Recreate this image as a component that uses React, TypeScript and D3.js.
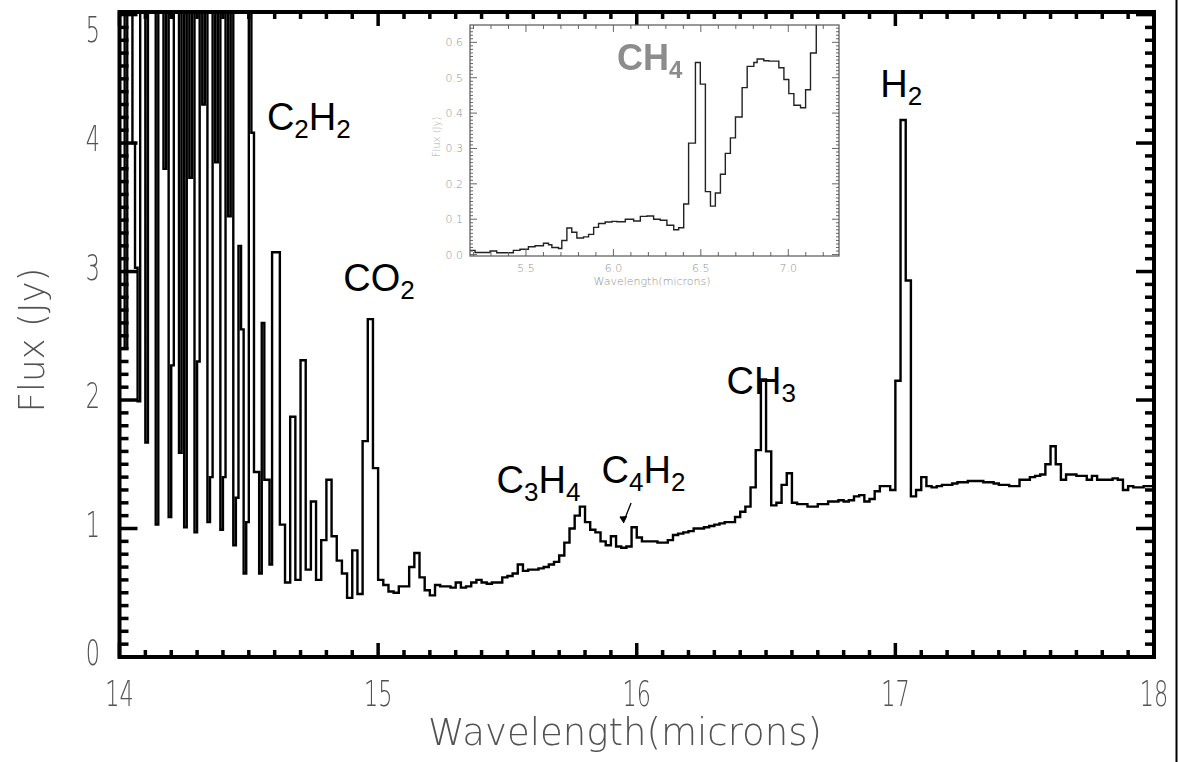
import React from 'react';
import * as d3 from 'd3';

const W = 1180;
const H = 762;

// C2H2 band head, one flux value (Jy) per 0.01 µm bin from 14.00 to 14.60 µm
const combStart = 14.0;
const combWidth = 0.01;
const combFlux = [
  5.6, 5.6, 2.4, 5.6, 5.6, 4.0, 3.03, 1.99, 5.6, 5.6,
  1.67, 5.6, 5.6, 5.6, 1.03, 5.6, 5.6, 3.8, 5.6, 1.09,
  2.27, 5.6, 5.6, 1.59, 5.6, 1.01, 5.6, 3.73, 5.6, 0.97,
  2.3, 5.6, 4.3, 5.6, 1.05, 1.4, 5.6, 3.85, 5.6, 0.99,
  1.4, 5.6, 3.43, 5.6, 0.87, 1.24, 3.2, 2.55, 0.65, 1.05,
  5.6, 4.08, 1.44, 1.44, 0.65, 2.6, 1.38, 1.38, 0.72, 3.15,
];

// Remainder of the spectrum, one flux value (Jy) per 0.02 µm bin from 14.60 µm
const binStart = 14.6;
const binWidth = 0.02;
const flux = [
  3.15, 1.03, 0.58, 1.87, 0.6, 2.31, 0.68, 1.21, 0.6, 0.91,
  1.38, 0.94, 0.75, 0.65, 0.46, 0.83, 0.49, 1.68, 2.63, 1.47,
  0.6, 0.56, 0.51, 0.5, 0.55, 0.55, 0.7, 0.81, 0.62, 0.52,
  0.48, 0.56, 0.55, 0.55, 0.54, 0.58, 0.54, 0.55, 0.58, 0.6,
  0.58, 0.57, 0.58, 0.58, 0.62, 0.63, 0.65, 0.72, 0.67, 0.68,
  0.68, 0.69, 0.7, 0.72, 0.74, 0.79, 0.89, 1.0, 1.1, 1.17,
  1.05, 0.99, 0.97, 0.9, 0.87, 0.94, 0.86, 0.85, 0.86, 1.01,
  0.93, 0.9, 0.9, 0.9, 0.89, 0.89, 0.91, 0.95, 0.96, 0.97,
  0.98, 1.0, 1.0, 1.01, 1.02, 1.03, 1.04, 1.05, 1.05, 1.09,
  1.13, 1.17, 1.32, 1.61, 2.16, 1.6, 1.18, 1.2, 1.34, 1.43,
  1.2, 1.19, 1.19, 1.17, 1.17, 1.19, 1.19, 1.21, 1.21, 1.22,
  1.21, 1.22, 1.25, 1.26, 1.21, 1.23, 1.29, 1.33, 1.33, 1.3,
  2.15, 4.18, 2.93, 1.25, 1.3, 1.4, 1.33, 1.32, 1.33, 1.34,
  1.34, 1.35, 1.36, 1.36, 1.37, 1.37, 1.37, 1.36, 1.36, 1.35,
  1.34, 1.34, 1.33, 1.33, 1.38, 1.38, 1.4, 1.41, 1.42, 1.5,
  1.64, 1.5, 1.38, 1.42, 1.42, 1.41, 1.41, 1.38, 1.41, 1.38,
  1.38, 1.38, 1.39, 1.38, 1.3, 1.33, 1.32, 1.32, 1.33, 1.33,
];

const xTickValues = [14, 15, 16, 17, 18];
const yTickValues = [0, 1, 2, 3, 4, 5];

// Inset: 5–7.3 µm, step starts (µm) and flux (Jy)
const insetWave = [
  5.18, 5.209, 5.295, 5.333, 5.428, 5.466, 5.514, 5.552, 5.6, 5.629,
  5.648, 5.686, 5.705, 5.734, 5.762, 5.791, 5.829, 5.858, 5.887, 5.915,
  5.953, 5.992, 6.02, 6.068, 6.116, 6.154, 6.192, 6.23, 6.268, 6.306,
  6.345, 6.373, 6.402, 6.43, 6.469, 6.497, 6.526, 6.555, 6.583, 6.612,
  6.64, 6.669, 6.698, 6.736, 6.765, 6.803, 6.822, 6.86, 6.889, 6.946,
  6.975, 7.003, 7.032, 7.07, 7.099, 7.127, 7.16,
];
const insetFlux = [
  0.012, 0.006, 0.01, 0.005, 0.012, 0.015, 0.022, 0.025, 0.032, 0.028,
  0.02, 0.017, 0.04, 0.075, 0.063, 0.047, 0.05, 0.057, 0.077, 0.088,
  0.092, 0.094, 0.093, 0.1, 0.095, 0.108, 0.109, 0.1, 0.097, 0.083,
  0.07, 0.076, 0.143, 0.315, 0.543, 0.482, 0.178, 0.137, 0.174, 0.227,
  0.286, 0.33, 0.389, 0.472, 0.532, 0.543, 0.553, 0.548, 0.547, 0.528,
  0.495, 0.455, 0.422, 0.415, 0.466, 0.57, 0.8,
];
const insetXTickValues = [5.5, 6.0, 6.5, 7.0];
const insetYTickValues = [0, 0.1, 0.2, 0.3, 0.4, 0.5, 0.6];

// Molecule annotations: anchor (µm, Jy) and text runs (sub = subscript)
type Run = { t: string; sub?: boolean };
const speciesLabels: { wl: number; f: number; runs: Run[] }[] = [
  { wl: 14.57, f: 4.1, runs: [{ t: 'C' }, { t: '2', sub: true }, { t: 'H' }, { t: '2', sub: true }] },
  { wl: 14.865, f: 2.85, runs: [{ t: 'CO' }, { t: '2', sub: true }] },
  { wl: 15.458, f: 1.276, runs: [{ t: 'C' }, { t: '3', sub: true }, { t: 'H' }, { t: '4', sub: true }] },
  { wl: 15.864, f: 1.354, runs: [{ t: 'C' }, { t: '4', sub: true }, { t: 'H' }, { t: '2', sub: true }] },
  { wl: 16.347, f: 2.047, runs: [{ t: 'CH' }, { t: '3', sub: true }] },
  { wl: 16.942, f: 4.358, runs: [{ t: 'H' }, { t: '2', sub: true }] },
];

const PLOT = { left: 119.5, right: 1154, top: 12, bottom: 657 };
const INSET = { left: 470, right: 839, top: 25, bottom: 256 };

const thinFont = "'DejaVu Sans', 'Liberation Sans', sans-serif";
const labelFont = "'Liberation Sans', Arial, Helvetica, sans-serif";

// Narrow, thin digits for the main axes
const DIGIT_SQUEEZE = 0.62;

function Runs({ runs, size, subSize, shift }: { runs: Run[]; size: number; subSize: number; shift: number }) {
  let level = 0;
  return (
    <>
      {runs.map((r, i) => {
        const target = r.sub ? shift : 0;
        const dy = target - level;
        level = target;
        return (
          <tspan key={i} dy={dy} fontSize={r.sub ? subSize : size}>
            {r.t}
          </tspan>
        );
      })}
    </>
  );
}

export default function App() {
  const x = d3.scaleLinear().domain([14, 18]).range([PLOT.left, PLOT.right]);
  const y = d3.scaleLinear().domain([0, 5.02]).range([PLOT.bottom, PLOT.top]);

  const pts: [number, number][] = [
    ...combFlux.map((v, i) => [combStart + i * combWidth, v] as [number, number]),
    ...flux.map((v, i) => [binStart + i * binWidth, v] as [number, number]),
  ];
  pts.push([binStart + flux.length * binWidth, flux[flux.length - 1]]);
  const line = d3
    .line<[number, number]>()
    .x((d) => x(d[0]))
    .y((d) => y(d[1]))
    .curve(d3.curveStepAfter);

  const ix = d3.scaleLinear().domain([5.18, 7.29]).range([INSET.left, INSET.right]);
  const iy = d3.scaleLinear().domain([-0.004, 0.649]).range([INSET.bottom, INSET.top]);
  const insetPts: [number, number][] = insetWave.map((w, i) => [w, insetFlux[i]]);
  const insetLine = d3
    .line<[number, number]>()
    .x((d) => ix(d[0]))
    .y((d) => iy(d[1]))
    .curve(d3.curveStepAfter);

  const xMinor = d3.range(0, 41).map((i) => 14 + i * 0.1);
  const yMinor = d3.range(0, 51).map((i) => i * 0.1);
  const ixMinor = d3.range(0, 21).map((i) => 5.2 + i * 0.1);
  const iyMinor = d3.range(0, 65).map((i) => i * 0.01);

  const isMajor = (v: number) => Math.abs(v - Math.round(v)) < 1e-6;

  return (
    <svg
      width={W}
      height={H}
      viewBox={`0 0 ${W} ${H}`}
      style={{ position: 'absolute', left: 0, top: 0, background: '#fff' }}
    >
      <defs>
        <clipPath id="plotClip">
          <rect x={PLOT.left} y={PLOT.top} width={PLOT.right - PLOT.left} height={PLOT.bottom - PLOT.top} />
        </clipPath>
        <clipPath id="insetClip">
          <rect x={INSET.left} y={INSET.top} width={INSET.right - INSET.left} height={INSET.bottom - INSET.top} />
        </clipPath>
      </defs>
      <rect x={0} y={0} width={W} height={H} fill="#fff" />

      {/* spectrum */}
      <path
        d={line(pts) || ''}
        fill="none"
        stroke="#000"
        strokeWidth={2.4}
        strokeLinejoin="miter"
        clipPath="url(#plotClip)"
      />

      {/* ticks on all four sides */}
      <g stroke="#000" strokeWidth={3.5}>
        {xMinor.map((v, i) => {
          const len = isMajor(v) ? 14 : 7;
          const px = x(v);
          return (
            <g key={i}>
              <line x1={px} x2={px} y1={PLOT.bottom} y2={PLOT.bottom - len} />
              <line x1={px} x2={px} y1={PLOT.top} y2={PLOT.top + len} />
            </g>
          );
        })}
        {yMinor.map((v, i) => {
          const len = isMajor(v) ? 18 : 9;
          const py = y(v);
          return (
            <g key={i}>
              <line x1={PLOT.left} x2={PLOT.left + len} y1={py} y2={py} />
              <line x1={PLOT.right} x2={PLOT.right - len} y1={py} y2={py} />
            </g>
          );
        })}
      </g>
      <rect
        x={PLOT.left}
        y={PLOT.top}
        width={PLOT.right - PLOT.left}
        height={PLOT.bottom - PLOT.top}
        fill="none"
        stroke="#000"
        strokeWidth={4}
      />

      {/* axis tick labels and titles */}
      <g fontFamily={thinFont} fontWeight={200} fill="#505050" fontSize={36} opacity={0.99}>
        {xTickValues.map((v) => (
          <text
            key={v}
            transform={`translate(${Math.min(x(v), 1156)},706) scale(${DIGIT_SQUEEZE},1)`}
            textAnchor="middle"
          >
            {String(v)}
          </text>
        ))}
        {yTickValues.map((v) => (
          <text
            key={v}
            transform={`translate(100,${Math.max(y(v) + 8, 42)}) scale(${DIGIT_SQUEEZE},1)`}
            textAnchor="end"
          >
            {String(v)}
          </text>
        ))}
        <text
          x={625}
          y={745}
          textAnchor="middle"
          fontSize={37}
          textLength={394}
          lengthAdjust="spacingAndGlyphs"
        >
          Wavelength(microns)
        </text>
        <text
          transform="translate(44,340) rotate(-90)"
          textAnchor="middle"
          textLength={145}
          lengthAdjust="spacingAndGlyphs"
        >
          Flux (Jy)
        </text>
      </g>

      {/* molecule annotations */}
      <g fontFamily={labelFont} fill="#000">
        {speciesLabels.map((s, i) => (
          <text key={i} x={x(s.wl)} y={y(s.f)}>
            <Runs runs={s.runs} size={38} subSize={26} shift={8} />
          </text>
        ))}
      </g>
      <g stroke="#000" strokeWidth={1.3} fill="none">
        <line x1={x(15.978)} y1={y(1.199)} x2={x(15.949)} y2={y(1.05)} />
        <path
          d={`M${x(15.949) - 3.5},${y(1.05) - 5.5} L${x(15.949)},${y(1.05)} L${x(15.949) + 3},${y(1.05) - 6}`}
          fill="#000"
        />
      </g>

      {/* inset panel */}
      <rect
        x={INSET.left}
        y={INSET.top}
        width={INSET.right - INSET.left}
        height={INSET.bottom - INSET.top}
        fill="#fff"
      />
      <path
        d={insetLine(insetPts) || ''}
        fill="none"
        stroke="#222"
        strokeWidth={1.4}
        clipPath="url(#insetClip)"
      />
      <g stroke="#666" strokeWidth={1}>
        {ixMinor.map((v, i) => {
          const major = Math.abs(v * 2 - Math.round(v * 2)) < 1e-6;
          const len = major ? 7 : 4;
          const px = ix(v);
          return (
            <g key={i}>
              <line x1={px} x2={px} y1={INSET.bottom} y2={INSET.bottom - len} />
              <line x1={px} x2={px} y1={INSET.top} y2={INSET.top + len} />
            </g>
          );
        })}
        {iyMinor.map((v, i) => {
          const major = Math.abs(v * 10 - Math.round(v * 10)) < 1e-6;
          const len = major ? 7 : 3;
          const py = iy(v);
          return (
            <g key={i}>
              <line x1={INSET.left} x2={INSET.left + len} y1={py} y2={py} />
              <line x1={INSET.right} x2={INSET.right - len} y1={py} y2={py} />
            </g>
          );
        })}
      </g>
      <rect
        x={INSET.left}
        y={INSET.top}
        width={INSET.right - INSET.left}
        height={INSET.bottom - INSET.top}
        fill="none"
        stroke="#555"
        strokeWidth={1.2}
      />
      <g fontFamily={thinFont} fontWeight={200} fill="#8f8f8f" fontSize={11} opacity={0.99}>
        {insetXTickValues.map((v) => (
          <text key={v} x={ix(v)} y={272} textAnchor="middle">
            {v.toFixed(1)}
          </text>
        ))}
        {insetYTickValues.map((v) => (
          <text key={v} x={463} y={iy(v) + 4} textAnchor="end">
            {v.toFixed(1)}
          </text>
        ))}
        <text x={652} y={285} textAnchor="middle" textLength={117} lengthAdjust="spacingAndGlyphs">
          Wavelength(microns)
        </text>
        <text transform="translate(440,137) rotate(-90)" textAnchor="middle" fontSize={10} fill="#aaa">
          Flux (Jy)
        </text>
      </g>
      <text x={617} y={70} fontFamily={labelFont} fontWeight={700} fill="#8c8c8c">
        <Runs runs={[{ t: 'CH' }, { t: '4', sub: true }]} size={36} subSize={24} shift={8} />
      </text>

      {/* right-hand border line */}
      <line x1={1176.5} x2={1176.5} y1={0} y2={H} stroke="#000" strokeWidth={2} />
    </svg>
  );
}
